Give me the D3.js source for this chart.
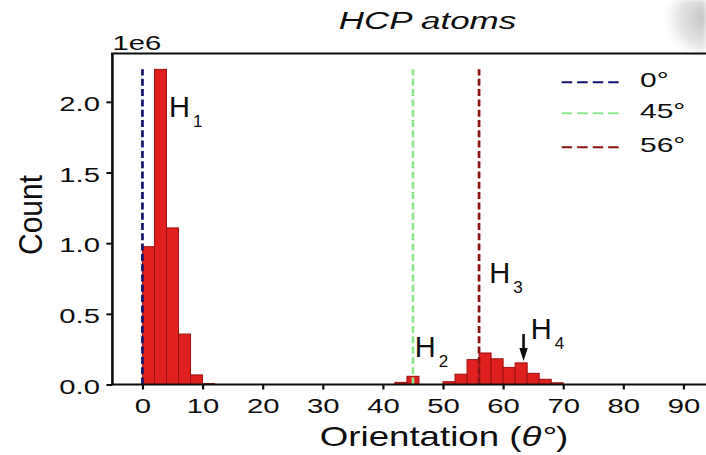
<!DOCTYPE html>
<html>
<head>
<meta charset="utf-8">
<script src="https://cdn.jsdelivr.net/npm/d3@7"></script>
<style>
  html, body { margin: 0; padding: 0; background: #fff; }
  svg { display: block; font-family: "Liberation Sans", Arial, Helvetica, sans-serif; }
</style>
</head>
<body>
<svg id="chart" width="706" height="455"></svg>
<script>
// Orientation histogram of HCP atoms: 2° bins (left edges) and atom counts
const binWidth = 2;
const binStarts = [0, 2, 4, 6, 8, 10, 12, 14, 16, 18, 20, 22, 24, 26, 28, 30, 32, 34, 36, 38,
                   40, 42, 44, 46, 48, 50, 52, 54, 56, 58, 60, 62, 64, 66, 68];
const counts = [975000, 2230000, 1108000, 357000, 68000, 6000, 0, 0, 0, 0, 0, 0, 0, 0, 0, 0, 0, 0, 0, 0,
                0, 15000, 58000, 0, 0, 20000, 73000, 176000, 223000, 182000, 121000, 153000, 79000, 37000, 12000];

// Reference orientations drawn as dashed lines
const refAngles = [0, 45, 56];
const refLabels = ["0°", "45°", "56°"];
const refColors = ["#14136f", "#8fe68f", "#8a1414"];

// Axis ticks
const xTicks = [0, 10, 20, 30, 40, 50, 60, 70, 80, 90];
const yTicks = [0, 500000, 1000000, 1500000, 2000000];
const yTickLabels = ["0.0", "0.5", "1.0", "1.5", "2.0"];

// Peak annotations H1..H4 (anchor in orientation / count units)
const peakSubs = ["1", "2", "3", "4"];
const peakAngle = [4.4, 45.3, 57.7, 64.6];
const peakCount = [1890000, 192000, 720000, 322000];
// Arrow marking H4
const arrowAngle = 63.4;
const arrowFrom = 357000;
const arrowTo = 166000;

const svg = d3.select("#chart");
const W = 706, H = 455;
const K = 1.5; // horizontal text stretch
const INK = "#0d0d0d";

const defs = svg.append("defs");
const rg = defs.append("radialGradient").attr("id", "corner")
  .attr("gradientUnits", "userSpaceOnUse").attr("cx", 706).attr("cy", 18).attr("r", 46);
rg.append("stop").attr("offset", "0%").attr("stop-color", "#b9b9b9").attr("stop-opacity", 0.9);
rg.append("stop").attr("offset", "60%").attr("stop-color", "#d4d4d4").attr("stop-opacity", 0.6);
rg.append("stop").attr("offset", "100%").attr("stop-color", "#ffffff").attr("stop-opacity", 0);
defs.append("filter").attr("id", "soft").append("feGaussianBlur").attr("stdDeviation", 2);

svg.append("rect").attr("width", W).attr("height", H).attr("fill", "#fff");
svg.append("rect").attr("x", 652).attr("y", 0).attr("width", 54).attr("height", 56)
  .attr("fill", "url(#corner)").attr("filter", "url(#soft)");

const x = d3.scaleLinear().domain([-5, 95]).range([112.4, 713.5]);
const yMax = d3.max(counts) * 1.05;
const y = d3.scaleLinear().domain([0, yMax]).range([384.5, 53.6]);

const plotLeft = x(-5), plotTop = y(yMax), plotBottom = y(0);

// Bars
svg.append("g").selectAll("rect")
  .data(binStarts.map((b, i) => ({ b, c: counts[i] })).filter(d => d.c > 0))
  .join("rect")
  .attr("x", d => x(d.b))
  .attr("width", d => x(d.b + binWidth) - x(d.b))
  .attr("y", d => y(d.c))
  .attr("height", d => y(0) - y(d.c))
  .attr("fill", "#e0201f")
  .attr("stroke", "#9e1010")
  .attr("stroke-width", 1);

// Reference lines, spanning up to the tallest bin
svg.append("g").selectAll("line")
  .data(refAngles)
  .join("line")
  .attr("x1", d => x(d)).attr("x2", d => x(d))
  .attr("y1", y(0)).attr("y2", y(d3.max(counts)))
  .attr("stroke", (d, i) => refColors[i])
  .attr("stroke-width", 2.7)
  .attr("stroke-dasharray", "7,3.3");

// Axes
const gx = svg.append("g").attr("transform", `translate(0,${plotBottom})`)
  .call(d3.axisBottom(x).tickValues(xTicks).tickSize(5).tickPadding(0));
gx.select(".domain").remove();
gx.selectAll(".tick line").attr("stroke", INK).attr("stroke-width", 2.2);
gx.selectAll(".tick text")
  .attr("y", null).attr("dy", null)
  .attr("font-size", 19.5).attr("fill", INK)
  .attr("transform", `translate(0,28.5) scale(${K},1)`);

const gy = svg.append("g").attr("transform", `translate(${plotLeft},0)`)
  .call(d3.axisLeft(y).tickValues(yTicks).tickFormat((d, i) => yTickLabels[i]).tickSize(6).tickPadding(0));
gy.select(".domain").remove();
gy.selectAll(".tick line").attr("stroke", INK).attr("stroke-width", 2);
gy.selectAll(".tick text")
  .attr("x", null).attr("dy", null)
  .attr("font-size", 19.5).attr("fill", INK)
  .attr("transform", `translate(-12.5,8.5) scale(${K},1)`);

// Spines (right spine lies beyond the canvas)
const spines = svg.append("g").attr("stroke", INK).attr("fill", "none");
spines.append("line").attr("x1", plotLeft).attr("x2", plotLeft).attr("y1", plotTop).attr("y2", plotBottom).attr("stroke-width", 2.6);
spines.append("line").attr("x1", plotLeft - 1.3).attr("x2", W).attr("y1", plotBottom).attr("y2", plotBottom).attr("stroke-width", 2);
spines.append("line").attr("x1", plotLeft - 1.3).attr("x2", W).attr("y1", plotTop).attr("y2", plotTop).attr("stroke-width", 2);

// Offset text
svg.append("text").text("1e6")
  .attr("font-size", 19.5).attr("fill", INK)
  .attr("transform", `translate(${plotLeft},49.5) scale(${K},1)`);

// Title
svg.append("text").text("HCP atoms")
  .attr("font-size", 23).attr("font-style", "italic").attr("fill", INK)
  .attr("text-anchor", "middle")
  .attr("transform", `translate(427.5,29.3) scale(1.52,1)`);

// Axis labels
const xl = svg.append("text").attr("font-size", 28).attr("fill", INK)
  .attr("text-anchor", "middle")
  .attr("transform", `translate(444,446) scale(1.31,1)`);
xl.append("tspan").text("Orientation (");
xl.append("tspan").attr("font-style", "italic").text("θ°");
xl.append("tspan").text(")");

svg.append("text").text("Count")
  .attr("font-size", 30).attr("fill", INK)
  .attr("text-anchor", "middle")
  .attr("transform", `translate(42,215) scale(1.13,1) rotate(-90)`);

// Legend
const legRows = [82.3, 113.3, 147.3];
const leg = svg.append("g");
refAngles.forEach((a, i) => {
  leg.append("line")
    .attr("x1", 561.7).attr("x2", 620).attr("y1", legRows[i]).attr("y2", legRows[i])
    .attr("stroke", refColors[i]).attr("stroke-width", 2).attr("stroke-dasharray", "10.5,5");
  leg.append("text").text(refLabels[i])
    .attr("font-size", 20).attr("fill", INK)
    .attr("transform", `translate(640,${legRows[i] + 4.6}) scale(${K},1)`);
});

// Peak labels
const ann = svg.append("g").attr("fill", INK);
peakSubs.forEach((s, i) => {
  const px = x(peakAngle[i]), py = y(peakCount[i]);
  ann.append("text").text("H").attr("font-size", 29).attr("x", px).attr("y", py);
  ann.append("text").text(s).attr("font-size", 17).attr("x", px + 24).attr("y", py + 10);
});

// Arrow pointing at H4
const ax = x(arrowAngle), ay0 = y(arrowFrom), ay1 = y(arrowTo);
ann.append("line").attr("x1", ax).attr("x2", ax).attr("y1", ay0).attr("y2", ay1 - 11)
  .attr("stroke", INK).attr("stroke-width", 2.6);
ann.append("path")
  .attr("d", `M${ax - 4.2},${ay1 - 13} L${ax + 4.2},${ay1 - 13} L${ax},${ay1} Z`)
  .attr("fill", INK);
</script>
</body>
</html>
